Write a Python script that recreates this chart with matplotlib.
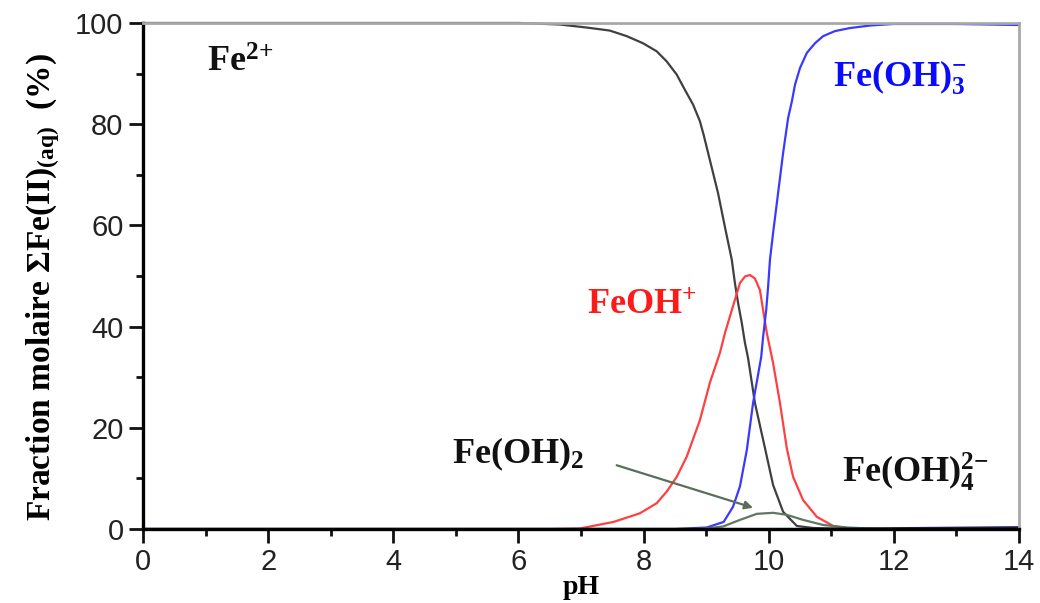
import matplotlib
matplotlib.use("Agg")
from matplotlib import pyplot as plt
from matplotlib.ticker import MultipleLocator

plt.rcParams['mathtext.fontset'] = 'custom'
plt.rcParams['mathtext.rm'] = 'Liberation Serif:bold'
plt.rcParams['mathtext.it'] = 'Liberation Serif:bold'
plt.rcParams['mathtext.bf'] = 'Liberation Serif:bold'

# values (pH, % of total Fe(II))
ph_fe2 = [0, 6.0, 6.66, 7.09, 7.46, 7.73, 7.99, 8.21, 8.37, 8.53, 8.66, 8.79, 8.90, 8.96,
          9.06, 9.19, 9.30, 9.41, 9.46, 9.51, 9.57, 9.62, 9.67, 9.78, 9.94, 10.07, 10.23,
          10.45, 10.71, 11.2, 14]
fe2 = [100, 100, 99.7, 99.1, 98.5, 97.4, 96.0, 94.4, 92.4, 89.8, 86.8, 83.9, 80.6, 77.9,
       72.9, 66.4, 59.7, 53.2, 48.6, 44.7, 40.7, 36.8, 33.8, 24.9, 16.0, 8.7, 3.4,
       0.6, 0.2, 0.0, 0.0]

ph_feoh = [0, 6.5, 6.98, 7.52, 7.94, 8.21, 8.37, 8.53, 8.69, 8.90, 9.06, 9.22, 9.30, 9.38,
           9.46, 9.54, 9.62, 9.70, 9.78, 9.86, 9.91, 9.97, 10.07, 10.18, 10.29, 10.39,
           10.55, 10.77, 11.03, 11.3, 11.8, 14]
feoh = [0, 0.0, 0.1, 1.4, 3.1, 5.1, 7.4, 10.3, 14.3, 21.5, 28.9, 34.8, 38.7, 42.0,
        45.3, 48.6, 49.9, 50.2, 49.5, 47.2, 43.3, 38.7, 32.8, 24.9, 15.9, 10.3,
        5.7, 2.4, 0.6, 0.1, 0.0, 0]

ph_feoh3 = [0, 8.5, 9.01, 9.28, 9.43, 9.54, 9.65, 9.75, 9.88, 9.91, 9.96, 9.99, 10.02,
            10.07, 10.15, 10.23, 10.31, 10.37, 10.42, 10.50, 10.61, 10.74, 10.87, 11.06,
            11.30, 11.62, 11.99, 13.0, 14]
feoh3 = [0, 0.0, 0.3, 1.4, 4.4, 8.4, 15.6, 24.9, 34.0, 37.9, 43.3, 47.8, 53.2,
         58.5, 66.4, 74.3, 81.2, 84.5, 87.8, 91.1, 94.1, 96.0, 97.4, 98.4,
         99.0, 99.5, 99.8, 99.8, 99.6]

ph_feoh2 = [0, 8.8, 9.06, 9.27, 9.54, 9.81, 10.07, 10.29, 10.55, 10.87, 11.25, 11.8, 14]
feoh2 = [0, 0.0, 0.2, 0.5, 1.8, 3.0, 3.2, 2.8, 1.8, 0.8, 0.3, 0.0, 0]

ph_feoh4 = [0, 10.5, 11.0, 12.0, 13.0, 14]
feoh4 = [0, 0.0, 0.05, 0.15, 0.25, 0.35]

labels = ['Fe$^{2{+}}$', 'FeOH$^{{+}}$', 'Fe(OH)$_{3}^{{-}}$', 'Fe(OH)$_{2}$', 'Fe(OH)$_{4}^{2{-}}$']

fig = plt.figure(figsize=(10.4, 6.03), dpi=100)
ax = fig.add_axes([0.1375, 0.1227, 0.8423, 0.8392])

lw = 1.6
ax.plot(ph_fe2, fe2, color='#404040', lw=lw, clip_on=False)
ax.plot(ph_feoh, feoh, color='#ff4040', lw=lw, clip_on=False)
ax.plot(ph_feoh3, feoh3, color='#3a3aff', lw=lw, clip_on=False)
ax.plot(ph_feoh2, feoh2, color='#607860', lw=lw, clip_on=False)
ax.plot(ph_feoh4, feoh4, color='#202050', lw=lw, clip_on=False)

ax.set_xlim(0, 14)
ax.set_ylim(0, 100)

serif = dict(family='Liberation Serif', weight='bold', fontsize=26)
ax.text(1.02, 90.3, labels[0], color='#111111', ha='left', va='baseline', **serif)
ax.text(7.10, 42.3, labels[1], color='#ff1a1a', ha='left', va='baseline', **serif)
ax.text(11.03, 87.4, labels[2], color='#0a0aff', ha='left', va='baseline', **serif)
ax.text(4.94, 13.0, labels[3], color='#111111', ha='left', va='baseline', **serif)
ax.text(11.17, 9.3, labels[4], color='#111111', ha='left', va='baseline', **serif)

ax.annotate('', xy=(9.75, 4.2), xytext=(7.57, 12.6),
            arrowprops=dict(arrowstyle='-|>', color='#5b6e5b', lw=1.6,
                            mutation_scale=12, shrinkA=0, shrinkB=0))

ax.set_xlabel('pH', family='Liberation Serif', weight='bold', fontsize=20, labelpad=-1)
ax.set_ylabel('Fraction molaire ΣFe(II)$_{(aq)}$  (%)', family='Liberation Serif',
              weight='bold', fontsize=24)
ax.yaxis.set_label_coords(-0.092, 0.478)

ax.xaxis.set_major_locator(MultipleLocator(2))
ax.xaxis.set_minor_locator(MultipleLocator(1))
ax.yaxis.set_major_locator(MultipleLocator(20))
ax.yaxis.set_minor_locator(MultipleLocator(10))
ax.tick_params(which='major', direction='out', length=10, width=2, color='#111111',
               labelsize=21, labelcolor='#222222', pad=4)
ax.tick_params(which='minor', direction='out', length=5, width=2, color='#111111')
for lab in ax.get_xticklabels() + ax.get_yticklabels():
    lab.set_family('Liberation Sans')

ax.spines['left'].set_linewidth(2.4)
ax.spines['bottom'].set_linewidth(2.4)
ax.spines['left'].set_color('#000000')
ax.spines['bottom'].set_color('#000000')
ax.spines['top'].set_color('#a8a8a8')
ax.spines['right'].set_color('#a8a8a8')
ax.spines['top'].set_linewidth(2)
ax.spines['right'].set_linewidth(2)

fig.savefig('out.png', dpi=100)
